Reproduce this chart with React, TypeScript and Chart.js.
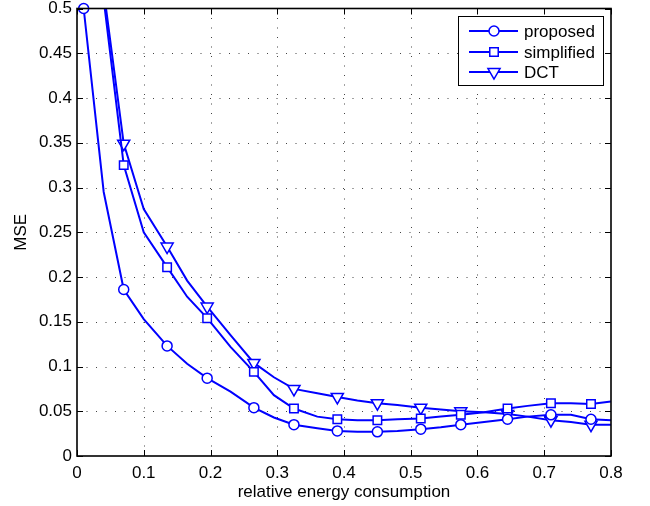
import React, { useEffect, useRef } from 'react';
import { Chart, registerables } from 'chart.js';

Chart.register(...registerables);

// relative energy consumption (x); markers on every other point
const energy = [0.01, 0.04, 0.07, 0.1, 0.135, 0.165, 0.195, 0.23, 0.265, 0.295, 0.325, 0.36, 0.39, 0.42, 0.45, 0.48, 0.515, 0.545, 0.575, 0.61, 0.645, 0.675, 0.71, 0.74, 0.77, 0.8];
const proposed = [0.5, 0.295, 0.186, 0.153, 0.123, 0.103, 0.087, 0.072, 0.054, 0.043, 0.035, 0.031, 0.028, 0.027, 0.027, 0.028, 0.03, 0.032, 0.035, 0.038, 0.041, 0.044, 0.046, 0.046, 0.041, 0.04];
const simplified = [0.8, 0.51, 0.325, 0.25, 0.211, 0.178, 0.154, 0.122, 0.094, 0.068, 0.053, 0.044, 0.041, 0.04, 0.04, 0.041, 0.042, 0.044, 0.046, 0.049, 0.053, 0.056, 0.059, 0.059, 0.058, 0.061];
const dct = [0.85, 0.52, 0.349, 0.276, 0.234, 0.196, 0.167, 0.135, 0.104, 0.088, 0.075, 0.07, 0.066, 0.062, 0.059, 0.057, 0.054, 0.052, 0.05, 0.049, 0.047, 0.044, 0.04, 0.038, 0.035, 0.035];
const seriesNames = ['proposed', 'simplified', 'DCT'];
const xTitle = 'relative energy consumption';
const yTitle = 'MSE';

const BLUE = '#0000ff';
const FONT = '"Liberation Sans", Arial, Helvetica, sans-serif';
const FS = 17;

function drawMarker(ctx: CanvasRenderingContext2D, style: string, x: number, y: number) {
  ctx.save();
  ctx.strokeStyle = BLUE;
  ctx.fillStyle = '#ffffff';
  ctx.lineWidth = 1.5;
  ctx.setLineDash([]);
  ctx.beginPath();
  if (style === 'circle') {
    ctx.arc(x, y, 5, 0, Math.PI * 2);
  } else if (style === 'rect') {
    const s = 6 * Math.SQRT1_2;
    ctx.rect(x - s, y - s, 2 * s, 2 * s);
  } else {
    const r = 7;
    ctx.moveTo(x, y + r);
    ctx.lineTo(x - r * Math.sin(Math.PI / 3), y - r / 2);
    ctx.lineTo(x + r * Math.sin(Math.PI / 3), y - r / 2);
    ctx.closePath();
  }
  ctx.fill();
  ctx.stroke();
  ctx.restore();
}

const matlabPlugin = {
  id: 'matlabStyle',
  beforeDatasetsDraw(chart: any) {
    const { ctx, chartArea: a, scales } = chart;
    const xs = scales.x;
    const ys = scales.y;
    ctx.save();
    ctx.strokeStyle = '#444';
    ctx.lineWidth = 1;
    ctx.setLineDash([1, 8.5]);
    xs.ticks.forEach((t: any) => {
      if (t.value <= xs.min + 1e-9 || t.value >= xs.max - 1e-9) return;
      const px = Math.round(xs.getPixelForValue(t.value)) + 0.5;
      ctx.beginPath();
      ctx.moveTo(px, a.bottom);
      ctx.lineTo(px, a.top);
      ctx.stroke();
    });
    ys.ticks.forEach((t: any) => {
      if (t.value <= ys.min + 1e-9 || t.value >= ys.max - 1e-9) return;
      const py = Math.round(ys.getPixelForValue(t.value)) + 0.5;
      ctx.beginPath();
      ctx.moveTo(a.left, py);
      ctx.lineTo(a.right, py);
      ctx.stroke();
    });
    ctx.restore();
  },
  afterDatasetsDraw(chart: any) {
    const { ctx, chartArea: a, scales } = chart;
    const xs = scales.x;
    const ys = scales.y;
    ctx.save();
    ctx.setLineDash([]);
    ctx.strokeStyle = '#000';
    ctx.lineWidth = 1;
    const tl = 6;
    xs.ticks.forEach((t: any) => {
      const px = Math.round(xs.getPixelForValue(t.value)) + 0.5;
      ctx.beginPath();
      ctx.moveTo(px, a.bottom);
      ctx.lineTo(px, a.bottom - tl);
      ctx.moveTo(px, a.top);
      ctx.lineTo(px, a.top + tl);
      ctx.stroke();
    });
    ys.ticks.forEach((t: any) => {
      const py = Math.round(ys.getPixelForValue(t.value)) + 0.5;
      ctx.beginPath();
      ctx.moveTo(a.left, py);
      ctx.lineTo(a.left + tl, py);
      ctx.moveTo(a.right, py);
      ctx.lineTo(a.right - tl, py);
      ctx.stroke();
    });
    ctx.lineWidth = 1.6;
    ctx.strokeRect(a.left, a.top, a.right - a.left, a.bottom - a.top);
    ctx.restore();
  },
  afterDraw(chart: any) {
    const { ctx } = chart;
    const styles = ['circle', 'rect', 'triangle'];
    const bx = 458, by = 16, bw = 145, bh = 69;
    ctx.save();
    ctx.fillStyle = '#fff';
    ctx.fillRect(bx, by, bw, bh);
    ctx.strokeStyle = '#000';
    ctx.lineWidth = 1;
    ctx.strokeRect(bx + 0.5, by + 0.5, bw, bh);
    const rows = [31, 52, 72];
    chart.data.datasets.forEach((ds: any, i: number) => {
      const yy = rows[i];
      ctx.strokeStyle = ds.borderColor;
      ctx.lineWidth = 2;
      ctx.beginPath();
      ctx.moveTo(469, yy);
      ctx.lineTo(518, yy);
      ctx.stroke();
      drawMarker(ctx, styles[i], 494, yy);
      ctx.fillStyle = '#000';
      ctx.font = `${FS}px ${FONT}`;
      ctx.textAlign = 'left';
      ctx.textBaseline = 'middle';
      ctx.fillText(ds.label, 524, yy + 1);
    });
    ctx.restore();
  },
};

export default function App() {
  const ref = useRef<HTMLCanvasElement | null>(null);
  useEffect(() => {
    if (!ref.current) return;
    const mk = (vals: number[]) => energy.map((x, i) => ({ x, y: vals[i] }));
    const radius = (r: number) => (c: any) => (c.dataIndex % 2 === 0 ? r : 0);
    const common = {
      borderColor: BLUE,
      backgroundColor: '#ffffff',
      pointBorderColor: BLUE,
      pointBackgroundColor: '#ffffff',
      borderWidth: 2,
      pointBorderWidth: 1.5,
      tension: 0,
      fill: false,
    };
    const zeroPad = (s: any) => {
      s.paddingTop = 0;
      s.paddingBottom = 0;
      s.paddingLeft = 0;
      s.paddingRight = 0;
    };
    const chart = new Chart(ref.current, {
      type: 'line',
      data: {
        datasets: [
          { ...common, label: seriesNames[0], data: mk(proposed), pointStyle: 'circle', pointRadius: radius(5), pointHoverRadius: radius(5), clip: false } as any,
          { ...common, label: seriesNames[1], data: mk(simplified), pointStyle: 'rect', pointRadius: radius(6), pointHoverRadius: radius(6) } as any,
          { ...common, label: seriesNames[2], data: mk(dct), pointStyle: 'triangle', pointRotation: 180, pointRadius: radius(7), pointHoverRadius: radius(7) } as any,
        ],
      },
      options: {
        responsive: false,
        animation: false,
        events: [],
        layout: { padding: { top: 8, right: 39, left: 0, bottom: 0 } },
        plugins: { legend: { display: false }, tooltip: { enabled: false } },
        scales: {
          x: {
            type: 'linear',
            min: 0,
            max: 0.8,
            ticks: {
              stepSize: 0.1,
              color: '#000',
              font: { family: FONT, size: FS },
              padding: 7,
              maxRotation: 0,
              callback: (v: any) => String(+Number(v).toFixed(2)),
            },
            grid: { display: false, drawTicks: false },
            border: { display: false },
            title: { display: true, text: xTitle, color: '#000', font: { family: FONT, size: FS }, padding: { top: 0, bottom: 3 } },
            afterFit: (s: any) => { s.height = 50; zeroPad(s); },
          },
          y: {
            type: 'linear',
            min: 0,
            max: 0.5,
            ticks: {
              stepSize: 0.05,
              color: '#000',
              font: { family: FONT, size: FS },
              padding: 5,
              callback: (v: any) => String(+Number(v).toFixed(2)),
            },
            grid: { display: false, drawTicks: false },
            border: { display: false },
            title: { display: true, text: yTitle, color: '#000', font: { family: FONT, size: FS }, padding: { top: 11, bottom: 0 } },
            afterFit: (s: any) => { s.width = 77; zeroPad(s); },
          },
        },
      },
      plugins: [matlabPlugin],
    });
    return () => chart.destroy();
  }, []);
  return (
    <div style={{ position: 'absolute', left: 0, top: 0, width: 650, height: 506, background: '#fff' }}>
      <canvas ref={ref} width={650} height={506} style={{ display: 'block', width: 650, height: 506 }} />
    </div>
  );
}
